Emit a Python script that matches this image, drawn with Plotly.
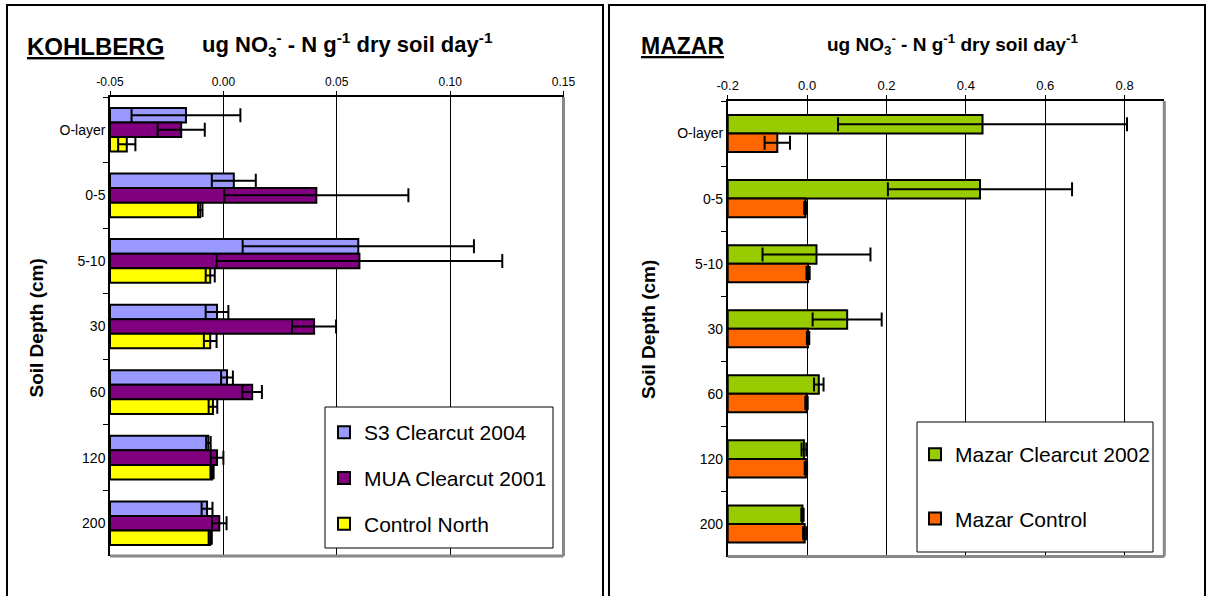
import plotly.graph_objects as go

# ---------------- data ----------------
categories = ["O-layer", "0-5", "5-10", "30", "60", "120", "200"]

# KOHLBERG (ug NO3- - N g-1 dry soil day-1)
s3_2004 = [-0.0165, 0.0046, 0.0595, -0.0028, 0.0016, -0.0066, -0.0072]
s3_2004_err = [0.024, 0.0097, 0.051, 0.005, 0.0026, 0.001, 0.0024]
mua_2001 = [-0.0186, 0.041, 0.060, 0.040, 0.0127, -0.0028, -0.0018]
mua_2001_err = [0.0104, 0.0406, 0.063, 0.0097, 0.0043, 0.0028, 0.0032]
control_north = [-0.0426, -0.0102, -0.0058, -0.0058, -0.0046, -0.005, -0.0058]
control_north_err = [0.0038, 0.001, 0.002, 0.0028, 0.0019, 0.0007, 0.0007]

# MAZAR
mazar_cc_2002 = [0.442, 0.4356, 0.0237, 0.101, 0.0295, -0.008, -0.0116]
mazar_cc_2002_err = [0.364, 0.232, 0.136, 0.087, 0.012, 0.006, 0.003]
mazar_control = [-0.075, -0.004, 0.0025, 0.0025, -0.0015, -0.003, -0.006]
mazar_control_err = [0.032, 0.003, 0.004, 0.003, 0.003, 0.003, 0.004]

left_ticks = [-0.05, 0.0, 0.05, 0.10, 0.15]
left_ticktext = ["-0.05", "0.00", "0.05", "0.10", "0.15"]
right_ticks = [-0.2, 0.0, 0.2, 0.4, 0.6, 0.8]
right_ticktext = ["-0.2", "0.0", "0.2", "0.4", "0.6", "0.8"]

LEFT_MIN, LEFT_MAX = -0.05, 0.15
RIGHT_MIN, RIGHT_MAX = -0.2, 0.9

W, H = 1208, 596
FONT = "Liberation Sans, Arial, sans-serif"


def px_x(v):
    return v / W


def px_y(v):
    return 1 - v / H


fig = go.Figure()


def add_bar(vals, errs, base, name, color, xa, ya, width, offset, legend):
    fig.add_trace(go.Bar(
        y=categories,
        x=[v - base for v in vals],
        base=base,
        orientation="h",
        name=name,
        width=width,
        offset=offset,
        marker=dict(color=color, line=dict(color="black", width=2)),
        error_x=dict(type="data", array=errs, visible=True, color="black",
                     thickness=2, width=7),
        xaxis=xa, yaxis=ya,
        legend=legend,
        legendgroup=name,
        hoverinfo="skip",
    ))


bw = 0.222
add_bar(s3_2004, s3_2004_err, LEFT_MIN, "S3 Clearcut 2004", "#9999FF", "x", "y", bw, -0.333, "legend")
add_bar(mua_2001, mua_2001_err, LEFT_MIN, "MUA Clearcut 2001", "#800080", "x", "y", bw, -0.111, "legend")
add_bar(control_north, control_north_err, LEFT_MIN, "Control North", "#FFFF00", "x", "y", bw, 0.111, "legend")

rw = 0.285
add_bar(mazar_cc_2002, mazar_cc_2002_err, RIGHT_MIN, "Mazar Clearcut 2002", "#99CC00", "x2", "y2", rw, -0.285, "legend2")
add_bar(mazar_control, mazar_control_err, RIGHT_MIN, "Mazar Control", "#FF6600", "x2", "y2", rw, 0.0, "legend2")

L_x0, L_x1, L_y0, L_y1 = 110, 563.5, 97, 556
R_x0, R_x1, R_y0, R_y1 = 727.7, 1164.3, 101, 556.5

xcommon = dict(side="top", showgrid=True, gridcolor="black", gridwidth=1,
               showline=True, linecolor="black", linewidth=1.5,
               ticks="outside", ticklen=4, tickcolor="black", tickwidth=1,
               zeroline=False, fixedrange=True, automargin=False)
ycommon = dict(type="category", autorange="reversed", showgrid=False,
               showline=True, linecolor="black", linewidth=1.5,
               ticks="outside", ticklen=5, tickcolor="black", tickwidth=1,
               tickson="boundaries", zeroline=False, fixedrange=True,
               automargin=False,
               tickfont=dict(family=FONT, size=14, color="black"))

fig.update_layout(
    template="none",
    width=W, height=H,
    margin=dict(l=0, r=0, t=0, b=0, pad=0, autoexpand=False),
    paper_bgcolor="white", plot_bgcolor="white",
    barmode="overlay",
    showlegend=True,
    font=dict(family=FONT, color="black"),
    xaxis=dict(domain=[px_x(L_x0), px_x(L_x1)], range=[LEFT_MIN, LEFT_MAX],
               tickvals=left_ticks, ticktext=left_ticktext, anchor="y",
               tickfont=dict(family=FONT, size=12, color="black"), **xcommon),
    yaxis=dict(domain=[px_y(L_y1), px_y(L_y0)], anchor="x", **ycommon),
    xaxis2=dict(domain=[px_x(R_x0), px_x(R_x1)], range=[RIGHT_MIN, RIGHT_MAX],
                tickvals=right_ticks, ticktext=right_ticktext, anchor="y2",
                tickfont=dict(family=FONT, size=13, color="black"), **xcommon),
    yaxis2=dict(domain=[px_y(R_y1), px_y(R_y0)], anchor="x2", **ycommon),
    legend=dict(x=px_x(324), y=px_y(412), xanchor="left", yanchor="top",
                bgcolor="rgba(0,0,0,0)", borderwidth=0,
                font=dict(family=FONT, size=21, color="black"),
                traceorder="grouped", tracegroupgap=15.5),
    legend2=dict(x=px_x(915), y=px_y(434), xanchor="left", yanchor="top",
                 bgcolor="rgba(0,0,0,0)", borderwidth=0,
                 font=dict(family=FONT, size=21, color="black"),
                 traceorder="grouped", tracegroupgap=34),
)

shapes = []
# outer panel frames
shapes.append(dict(type="rect", xref="paper", yref="paper",
                   x0=px_x(7), x1=px_x(603), y0=px_y(620), y1=px_y(5),
                   line=dict(color="black", width=2), fillcolor="rgba(0,0,0,0)", layer="below"))
shapes.append(dict(type="rect", xref="paper", yref="paper",
                   x0=px_x(609), x1=px_x(1205), y0=px_y(620), y1=px_y(5),
                   line=dict(color="black", width=2), fillcolor="rgba(0,0,0,0)", layer="below"))
# gray right/bottom borders of plot areas
for xa, ya in (("x", "y"), ("x2", "y2")):
    shapes.append(dict(type="line", xref=f"{xa} domain", yref=f"{ya} domain",
                       x0=1, x1=1, y0=0, y1=1, line=dict(color="#888888", width=3), layer="above"))
    shapes.append(dict(type="line", xref=f"{xa} domain", yref=f"{ya} domain",
                       x0=0, x1=1, y0=0, y1=0, line=dict(color="#888888", width=3), layer="above"))
# legend boxes
shapes.append(dict(type="rect", xref="paper", yref="paper",
                   x0=px_x(325), x1=px_x(553), y0=px_y(548), y1=px_y(407),
                   line=dict(color="black", width=1), fillcolor="white", layer="above"))
shapes.append(dict(type="rect", xref="paper", yref="paper",
                   x0=px_x(917), x1=px_x(1153), y0=px_y(552), y1=px_y(422),
                   line=dict(color="black", width=1), fillcolor="white", layer="above"))
fig.update_layout(shapes=shapes)

unit = "ug NO<sub>3</sub><sup>-</sup> - N g<sup>-1</sup> dry soil day<sup>-1</sup>"
ann = [
    dict(text="<b><u>KOHLBERG</u></b>", x=px_x(25), y=px_y(46), xanchor="left", yanchor="middle",
         font=dict(size=24, family=FONT)),
    dict(text=f"<b>{unit}</b>", x=px_x(200), y=px_y(44), xanchor="left", yanchor="middle",
         font=dict(size=22, family=FONT)),
    dict(text="<b><u>MAZAR</u></b>", x=px_x(639), y=px_y(46), xanchor="left", yanchor="middle",
         font=dict(size=23, family=FONT)),
    dict(text=f"<b>{unit}</b>", x=px_x(825), y=px_y(44), xanchor="left", yanchor="middle",
         font=dict(size=19, family=FONT)),
    dict(text="<b>Soil Depth (cm)</b>", x=px_x(35.5), y=px_y(328), textangle=-90,
         xanchor="center", yanchor="middle", font=dict(size=19, family=FONT)),
    dict(text="<b>Soil Depth (cm)</b>", x=px_x(648), y=px_y(330), textangle=-90,
         xanchor="center", yanchor="middle", font=dict(size=19, family=FONT)),
]
for a in ann:
    a.update(xref="paper", yref="paper", showarrow=False)
fig.update_layout(annotations=ann)

fig.write_html("out.html")
